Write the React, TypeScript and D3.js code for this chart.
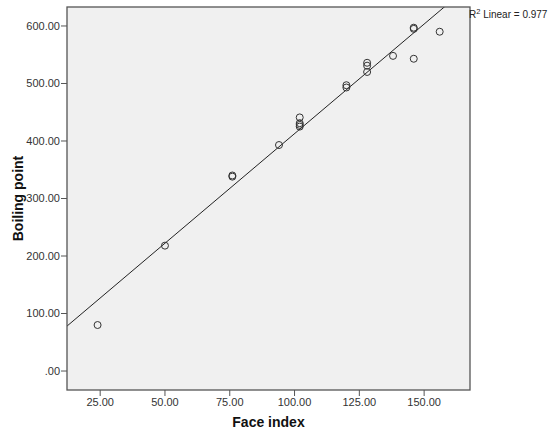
import * as d3 from 'd3'

// Face index vs boiling point
const faceIndex = [24, 50, 76, 76, 94, 102, 102, 102, 102, 120, 120, 128, 128, 128, 138, 146, 146, 146, 156]
const boilingPoint = [80, 218, 340, 338, 393, 441, 431, 428, 425, 497, 493, 536, 531, 520, 548, 597, 595, 543, 590]
const xTicks = [25, 50, 75, 100, 125, 150]
const yTicks = [0, 100, 200, 300, 400, 500, 600]
const r2Label = '0.977'

const W = 550
const H = 435
const PLOT = { left: 67, right: 470, top: 7, bottom: 390 }
const FONT = 'Arial, "Liberation Sans", sans-serif'

const fmt = (v: number) => (v === 0 ? '.00' : v.toFixed(2))

export default function App() {
  const x = d3.scaleLinear().domain([12.2, 167.7]).range([PLOT.left, PLOT.right])
  const y = d3.scaleLinear().domain([-33, 633]).range([PLOT.bottom, PLOT.top])

  // least squares fit line
  const mx = d3.mean(faceIndex) as number
  const my = d3.mean(boilingPoint) as number
  let sxy = 0
  let sxx = 0
  faceIndex.forEach((v, i) => {
    sxy += (v - mx) * (boilingPoint[i] - my)
    sxx += (v - mx) * (v - mx)
  })
  const slope = sxy / sxx
  const icpt = my - slope * mx
  const [x0, x1] = x.domain()
  const line = d3.line<number>()
    .x(d => x(d))
    .y(d => y(icpt + slope * d))

  return (
    <svg width={W} height={H} style={{ position: 'absolute', left: 0, top: 0, background: '#fff' }}>
      <defs>
        <clipPath id="plot-clip">
          <rect x={PLOT.left} y={PLOT.top} width={PLOT.right - PLOT.left} height={PLOT.bottom - PLOT.top} />
        </clipPath>
      </defs>

      <rect
        x={PLOT.left}
        y={PLOT.top}
        width={PLOT.right - PLOT.left}
        height={PLOT.bottom - PLOT.top}
        fill="#f0f0f0"
      />

      {/* fit line */}
      <path d={line([x0, x1]) || ''} stroke="#222" strokeWidth={1} fill="none" clipPath="url(#plot-clip)" />

      {/* points */}
      {faceIndex.map((v, i) => (
        <circle
          key={i}
          cx={x(v)}
          cy={y(boilingPoint[i])}
          r={3.5}
          fill="none"
          stroke="#333"
          strokeWidth={1}
        />
      ))}

      {/* frame */}
      <rect
        x={PLOT.left}
        y={PLOT.top}
        width={PLOT.right - PLOT.left}
        height={PLOT.bottom - PLOT.top}
        fill="none"
        stroke="#555"
        strokeWidth={1.3}
      />

      {/* y axis */}
      {yTicks.map(t => (
        <g key={t}>
          <line x1={PLOT.left - 6} x2={PLOT.left} y1={y(t)} y2={y(t)} stroke="#555" strokeWidth={1} />
          <text
            x={PLOT.left - 7}
            y={y(t)}
            dy="0.35em"
            textAnchor="end"
            fontFamily={FONT}
            fontSize={11}
            fill="#333"
          >
            {fmt(t)}
          </text>
        </g>
      ))}

      {/* x axis */}
      {xTicks.map(t => (
        <g key={t}>
          <line x1={x(t)} x2={x(t)} y1={PLOT.bottom} y2={PLOT.bottom + 6} stroke="#555" strokeWidth={1} />
          <text
            x={x(t)}
            y={PLOT.bottom + 16}
            textAnchor="middle"
            fontFamily={FONT}
            fontSize={11}
            fill="#333"
          >
            {fmt(t)}
          </text>
        </g>
      ))}

      <text
        x={(PLOT.left + PLOT.right) / 2}
        y={427}
        textAnchor="middle"
        fontFamily={FONT}
        fontSize={14}
        fontWeight="bold"
        fill="#111"
      >
        Face index
      </text>

      <text
        transform={`translate(23, ${(PLOT.top + PLOT.bottom) / 2}) rotate(-90)`}
        textAnchor="middle"
        fontFamily={FONT}
        fontSize={14}
        fontWeight="bold"
        fill="#111"
      >
        Boiling point
      </text>

      <text x={PLOT.right - 1} y={18} fontFamily={FONT} fontSize={10} fill="#222">
        R<tspan fontSize={7.5} dy={-4}>2</tspan>
        <tspan dy={4}> Linear = {r2Label}</tspan>
      </text>
    </svg>
  )
}
